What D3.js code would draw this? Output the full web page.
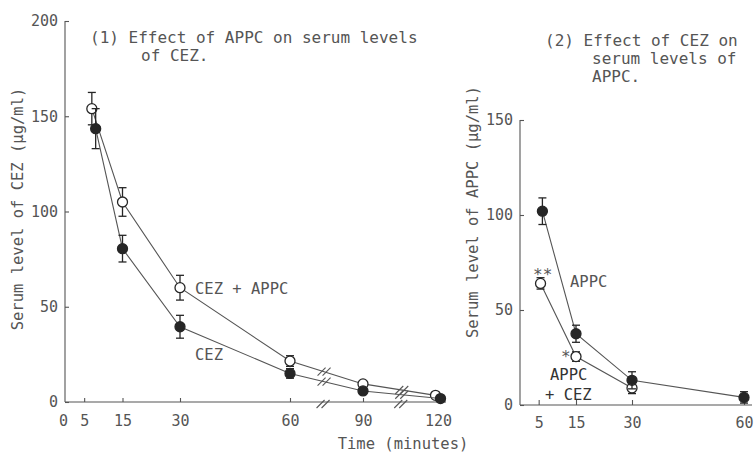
<!DOCTYPE html>
<html><head><meta charset="utf-8">
<script src="https://cdn.jsdelivr.net/npm/d3@7"></script>
<style>body{margin:0;background:#fff}svg{display:block}</style>
</head><body>
<script>
// ---- Panel (1): serum CEZ ----
const p1TicksY = [0, 50, 100, 150, 200];
const p1TicksX = [0, 5, 15, 30, 60, 90, 120];
const cezAppcTime = [7, 15, 30, 60, 90, 119];
const cezAppcVal  = [154, 105, 60, 21.5, 9.5, 3.5];
const cezAppcErr  = [8.5, 7.5, 6.5, 2.8, 1.2, 1.2];
const cezTime = [8, 15, 30, 60, 90, 121];
const cezVal  = [143.5, 80.5, 39.5, 15, 5.8, 1.8];
const cezErr  = [10.5, 7, 6, 2.5, 1.2, 1.2];
const p1Breaks = [74, 105.5];

// ---- Panel (2): serum APPC ----
const p2TicksY = [0, 50, 100, 150];
const p2TicksX = [5, 15, 30, 60];
const appcTime = [6, 15, 30, 60];
const appcVal  = [102, 37.5, 13, 4];
const appcErr  = [7, 4.5, 4.5, 3];
const appcCezTime = [5.5, 15, 30];
const appcCezVal  = [64, 25.5, 9];
const appcCezErr  = [3, 2.5, 3];

const W = 754, H = 455;
const ink = "#555", dark = "#262626";
const font = "'DejaVu Sans Mono', 'Liberation Mono', monospace";

const svg = d3.select("body").append("svg").attr("width", W).attr("height", H)
  .style("font-family", font);

function series(g, x, y, t, v, e, filled) {
  const pts = t.map((d, i) => ({t: d, v: v[i], e: e[i]}));
  g.append("path").datum(pts)
    .attr("fill", "none").attr("stroke", ink).attr("stroke-width", 1.1)
    .attr("d", d3.line().x(d => x(d.t)).y(d => y(d.v)));
  const eb = g.append("g").attr("stroke", dark).attr("stroke-width", 1.3);
  pts.forEach(d => {
    const cx = x(d.t);
    eb.append("line").attr("x1", cx).attr("x2", cx).attr("y1", y(d.v + d.e)).attr("y2", y(d.v - d.e));
    [d.v + d.e, d.v - d.e].forEach(vv => eb.append("line")
      .attr("x1", cx - 4).attr("x2", cx + 4).attr("y1", y(vv)).attr("y2", y(vv)));
  });
  g.selectAll(null).data(pts).join("circle")
    .attr("cx", d => x(d.t)).attr("cy", d => y(d.v)).attr("r", 5)
    .attr("fill", filled ? dark : "#fff").attr("stroke", dark).attr("stroke-width", 1.3);
  return pts;
}

function breakMark(g, px, py) {
  [-2.5, 2.5].forEach(o => g.append("line")
    .attr("x1", px + o - 4).attr("y1", py + 4).attr("x2", px + o + 4).attr("y2", py - 4)
    .attr("stroke", ink).attr("stroke-width", 1.1));
}

function interp(x, y, t, v, bt) {
  for (let i = 0; i < t.length - 1; i++) {
    if (bt >= t[i] && bt <= t[i + 1]) {
      const x0 = x(t[i]), x1 = x(t[i + 1]), y0 = y(v[i]), y1 = y(v[i + 1]);
      const px = x(bt);
      return [px, y0 + (y1 - y0) * (px - x0) / (x1 - x0)];
    }
  }
}

// ===== Panel 1 =====
{
  const x = d3.scaleLinear().domain([0, 30, 60, 90, 120]).range([65, 180, 290, 363, 438]);
  const y = d3.scaleLinear().domain([0, 200]).range([402, 21]);
  const g = svg.append("g");
  const ax = g.append("g").attr("transform", "translate(65,0)")
    .call(d3.axisLeft(y).tickValues(p1TicksY).tickSizeInner(-4).tickSizeOuter(0).tickPadding(7));
  const ay = g.append("g").attr("transform", "translate(0,402)")
    .call(d3.axisBottom(x).tickValues(p1TicksX).tickSizeInner(-4).tickSizeOuter(0).tickPadding(13));
  ax.select(".domain").attr("d", "M0,402V21");
  ay.select(".domain").attr("d", "M65,0H446");
  [ax, ay].forEach(a => {
    a.selectAll(".domain, line").attr("stroke", ink).attr("stroke-width", 1.1);
    a.selectAll("text").attr("fill", ink).style("font-size", "15px").style("font-family", font);
  });
  ay.selectAll(".tick").filter(d => d === 0).select("line").remove();
  ay.selectAll(".tick").filter(d => d === 0).select("text").attr("dx", -2);

  series(g, x, y, cezAppcTime, cezAppcVal, cezAppcErr, false);
  series(g, x, y, cezTime, cezVal, cezErr, true);
  p1Breaks.forEach(bt => {
    breakMark(g, ...interp(x, y, cezAppcTime, cezAppcVal, bt));
    breakMark(g, ...interp(x, y, cezTime, cezVal, bt));
    breakMark(g, x(bt) - 1, 404);
  });

  g.append("text").attr("x", 90).attr("y", 43).attr("fill", ink).style("font-size", "16px")
    .text("(1) Effect of APPC on serum levels");
  g.append("text").attr("x", 141).attr("y", 61).attr("fill", ink).style("font-size", "16px")
    .text("of CEZ.");
  g.append("text").attr("x", 195).attr("y", 294).attr("fill", ink).style("font-size", "15.5px")
    .text("CEZ + APPC");
  g.append("text").attr("x", 195).attr("y", 360).attr("fill", ink).style("font-size", "15.5px")
    .text("CEZ");
  g.append("text").attr("transform", "translate(23,209) rotate(-90)").attr("text-anchor", "middle")
    .attr("fill", ink).style("font-size", "15.5px").text("Serum level of CEZ (μg/ml)");
  g.append("text").attr("x", 403).attr("y", 449).attr("text-anchor", "middle")
    .attr("fill", ink).style("font-size", "15.5px").text("Time (minutes)");
}

// ===== Panel 2 =====
{
  const x = d3.scaleLinear().domain([0, 60]).range([520, 744]);
  const y = d3.scaleLinear().domain([0, 150]).range([405, 120]);
  const g = svg.append("g");
  const ax = g.append("g").attr("transform", "translate(520,0)")
    .call(d3.axisLeft(y).tickValues(p2TicksY).tickSizeInner(-4).tickSizeOuter(0).tickPadding(7));
  const ay = g.append("g").attr("transform", "translate(0,405)")
    .call(d3.axisBottom(x).tickValues(p2TicksX).tickSizeInner(-5).tickSizeOuter(0).tickPadding(12));
  ax.select(".domain").attr("d", "M0,405V120");
  ay.select(".domain").attr("d", "M520,0H752");
  [ax, ay].forEach(a => {
    a.selectAll(".domain, line").attr("stroke", ink).attr("stroke-width", 1.1);
    a.selectAll("text").attr("fill", ink).style("font-size", "15px").style("font-family", font);
  });

  series(g, x, y, appcCezTime, appcCezVal, appcCezErr, false);
  series(g, x, y, appcTime, appcVal, appcErr, true);

  g.append("text").attr("x", 545).attr("y", 46).attr("fill", ink).style("font-size", "16px")
    .text("(2) Effect of CEZ on");
  g.append("text").attr("x", 592).attr("y", 64).attr("fill", ink).style("font-size", "16px")
    .text("serum levels of");
  g.append("text").attr("x", 592).attr("y", 82).attr("fill", ink).style("font-size", "16px")
    .text("APPC.");
  g.append("text").attr("x", 570).attr("y", 287).attr("fill", ink).style("font-size", "15.5px").text("APPC");
  g.append("text").attr("x", 550).attr("y", 380).attr("fill", "#333").style("font-size", "15.5px").text("APPC");
  g.append("text").attr("x", 545).attr("y", 400).attr("fill", "#333").style("font-size", "15.5px").text("+ CEZ");
  g.append("text").attr("x", 533).attr("y", 280).attr("fill", ink).style("font-size", "16px").text("**");
  g.append("text").attr("x", 561).attr("y", 362).attr("fill", ink).style("font-size", "16px").text("*");
  g.append("text").attr("transform", "translate(478,212) rotate(-90)").attr("text-anchor", "middle")
    .attr("fill", ink).style("font-size", "15.5px").text("Serum level of APPC (μg/ml)");
}
</script>
</body></html>
